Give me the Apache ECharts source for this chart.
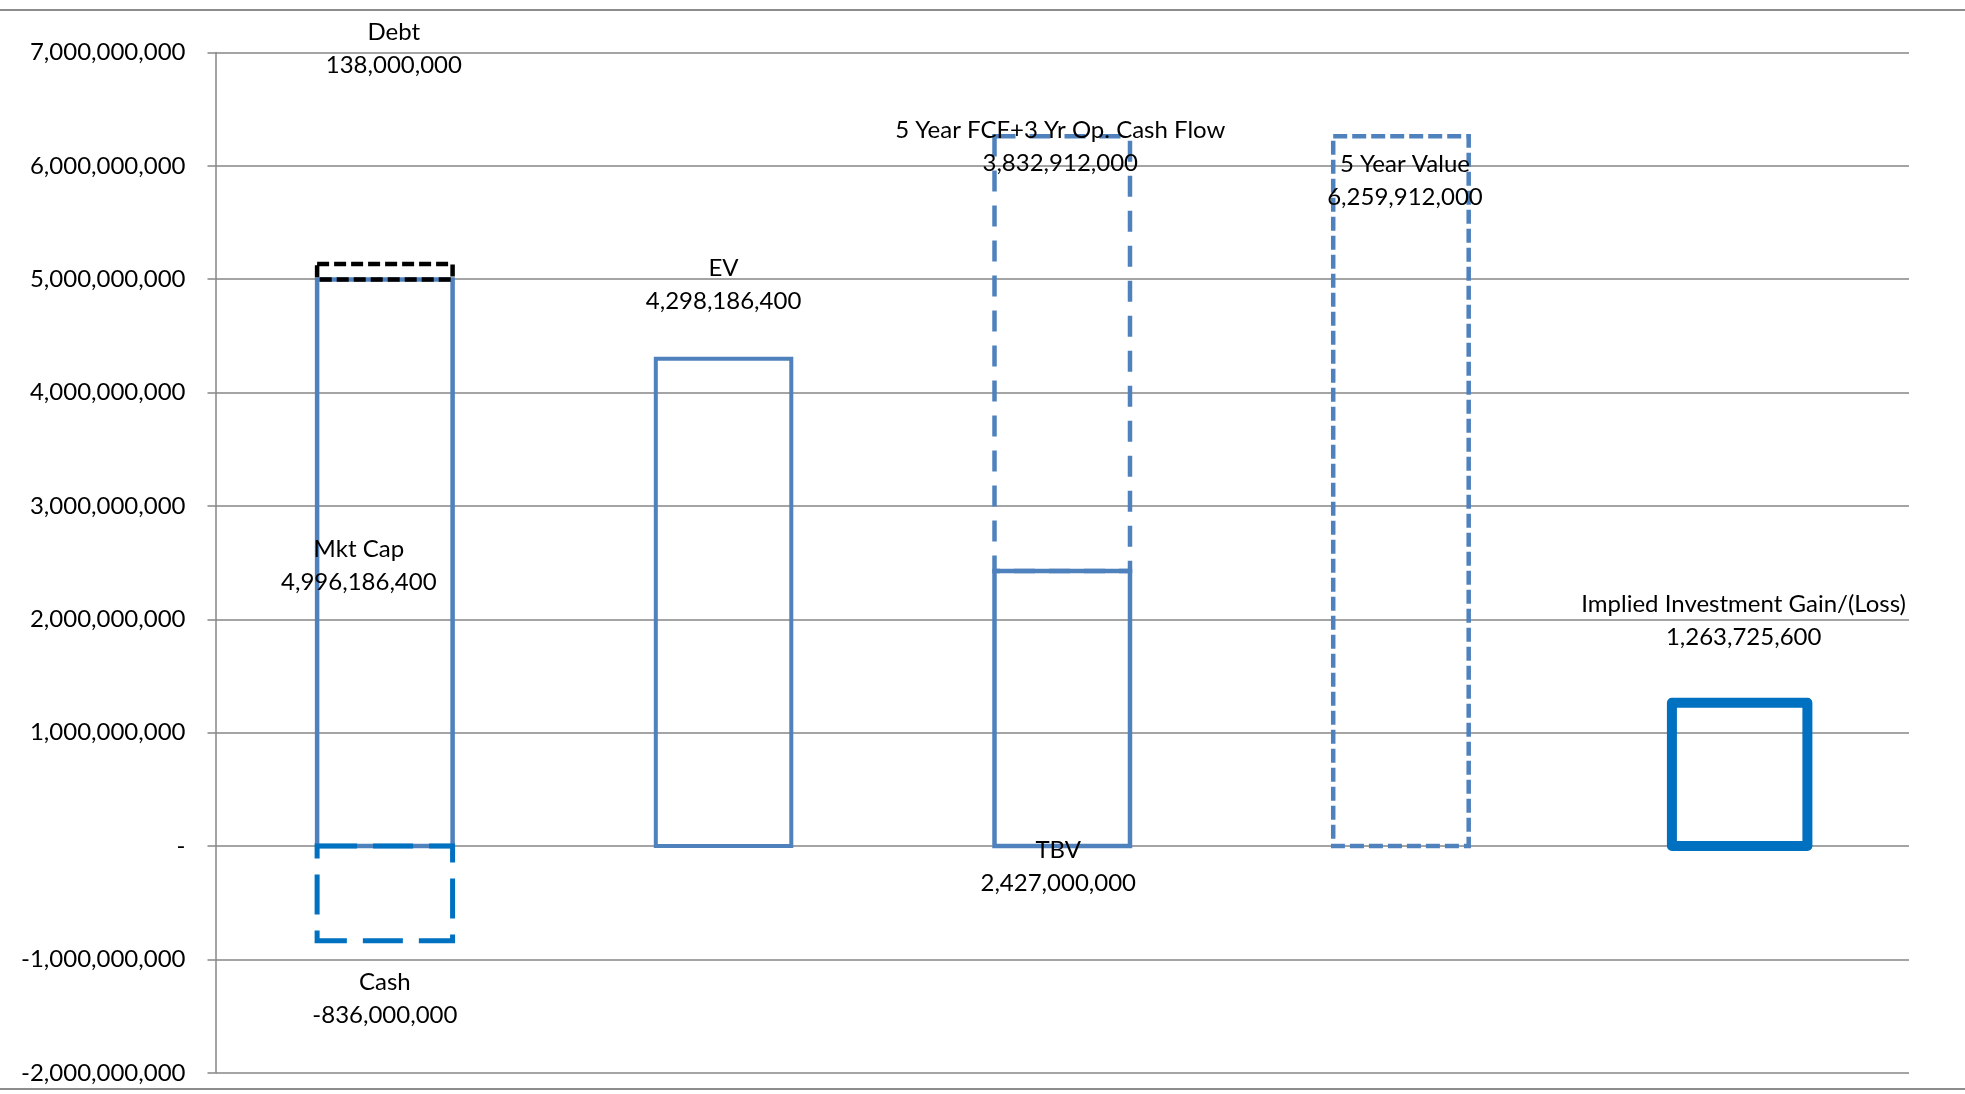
<!DOCTYPE html>
<html>
<head>
<meta charset="utf-8">
<script src="https://cdn.jsdelivr.net/npm/echarts@6/dist/echarts.min.js"></script>
<style>
  html, body { margin: 0; padding: 0; background: #ffffff; }
  #chart { width: 1965px; height: 1094px; }
</style>
</head>
<body>
<div id="chart"></div>
<script>
// Valuation bridge: market cap, EV, tangible book plus cash flow, and implied gain
const categories = ['Market', 'EV', 'TBV + Cash Flow', '5 Year Value', 'Gain'];
const cashValues     = [-836000000, null, null, null, null];
const mktCapValues   = [4996186400, null, null, null, null];
const debtValues     = [138000000, null, null, null, null];
const evValues       = [null, 4298186400, null, null, null];
const tbvValues      = [null, null, 2427000000, null, null];
const cashFlowValues = [null, null, 3832912000, null, null];
const fiveYearValues = [null, null, null, 6259912000, null];
const gainValues     = [null, null, null, null, 1263725600];

const yMin = -2000000000, yMax = 7000000000, yStep = 1000000000;

const FONT = 'Lato';
const BAR_RATIO = 0.4;
const fmt = v => Number(v).toLocaleString('en-US');

// Series in stacking order, with the outline style of each box
const seriesDefs = [
  { name: 'Cash', values: cashValues, color: '#0070C0', width: 5, dash: [40, 16], offset: [0, 105], z: 3 },
  { name: 'Mkt Cap', values: mktCapValues, color: '#4F81BD', width: 4.5, dash: null, offset: [-26, 3], z: 2 },
  { name: 'Debt', values: debtValues, color: '#000000', width: 4.5, dash: [12, 5], offset: [9, -223], z: 4 },
  { name: 'EV', values: evValues, color: '#4F81BD', width: 4, dash: null, offset: [0, -318], z: 2 },
  { name: 'TBV', values: tbvValues, color: '#4F81BD', width: 4.5, dash: null, offset: [-4, 158], z: 3 },
  { name: '5 Year FCF+3 Yr Op. Cash Flow', values: cashFlowValues, color: '#4F81BD', width: 4.5, dash: [21, 14], offset: [-2, -207], z: 2 },
  { name: '5 Year Value', values: fiveYearValues, color: '#4F81BD', width: 4.5, dash: [14, 5], offset: [4, -310], z: 2 },
  { name: 'Implied Investment Gain/(Loss)', values: gainValues, color: '#0070C0', width: 10, dash: null, join: 'round', offset: [4, -154], z: 2 }
];

// Stack positives and negatives separately per category
const posTop = categories.map(() => 0);
const negTop = categories.map(() => 0);
const series = seriesDefs.map(def => {
  const data = [];
  def.values.forEach((v, i) => {
    if (v === null || v === undefined) return;
    let lo, hi;
    if (v >= 0) { lo = posTop[i]; hi = lo + v; posTop[i] = hi; }
    else { hi = negTop[i]; lo = hi + v; negTop[i] = lo; }
    data.push([i, lo, hi, v]);
  });
  return {
    name: def.name,
    type: 'custom',
    z: def.z,
    encode: { x: 0, y: [1, 2] },
    data: data,
    silent: true,
    animation: false,
    renderItem: (params, api) => {
      const cat = api.value(0);
      const pLo = api.coord([cat, api.value(1)]);
      const pHi = api.coord([cat, api.value(2)]);
      const bw = api.size([1, 0])[0] * BAR_RATIO;
      return {
        type: 'rect',
        shape: {
          x: pLo[0] - bw / 2,
          y: Math.min(pLo[1], pHi[1]),
          width: bw,
          height: Math.abs(pLo[1] - pHi[1])
        },
        style: {
          fill: 'none',
          stroke: def.color,
          lineWidth: def.width,
          lineDash: def.dash || null,
          lineJoin: def.join || 'miter'
        },
        textContent: {
          style: {
            text: def.name + '\n' + fmt(api.value(3)),
            fill: '#000000',
            fontFamily: FONT,
            fontSize: 24,
            lineHeight: 33,
            align: 'center',
            verticalAlign: 'middle'
          }
        },
        textConfig: { position: 'inside', offset: def.offset }
      };
    }
  };
});

const chart = echarts.init(document.getElementById('chart'), null, { renderer: 'canvas' });

chart.setOption({
  backgroundColor: '#ffffff',
  animation: false,
  graphic: [{
    type: 'rect',
    shape: { x: -4, y: 10, width: 1973, height: 1079 },
    style: { fill: 'none', stroke: '#8c8c8c', lineWidth: 2 },
    silent: true,
    z: -1
  }],
  grid: { left: 215.5, right: 56, top: 52.4, bottom: 21.2, containLabel: false },
  xAxis: {
    type: 'category',
    data: categories,
    axisLine: { show: false },
    axisTick: { show: false },
    axisLabel: { show: false },
    splitLine: { show: false }
  },
  yAxis: {
    type: 'value',
    min: yMin,
    max: yMax,
    interval: yStep,
    axisLine: { show: true, lineStyle: { color: '#868686', width: 1.5 } },
    axisTick: { show: true, length: 8, lineStyle: { color: '#868686', width: 1.5 } },
    axisLabel: {
      margin: 30,
      fontFamily: FONT,
      fontSize: 24,
      color: '#000000',
      formatter: v => (v === 0 ? '-' : fmt(v))
    },
    splitLine: { show: true, lineStyle: { color: '#868686', width: 1.5 } }
  },
  series: series
});
</script>
</body>
</html>
